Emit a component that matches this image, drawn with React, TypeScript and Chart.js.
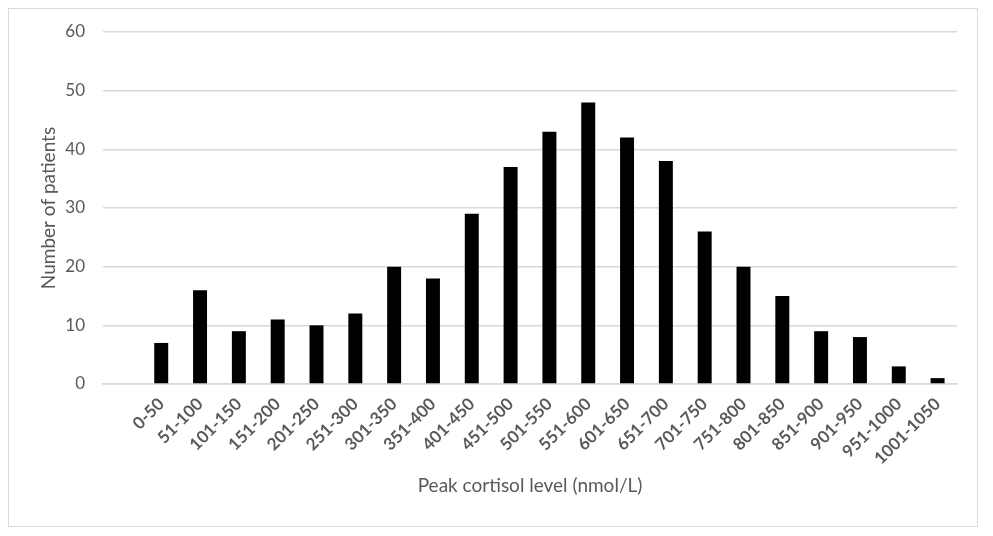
import React, { useEffect, useRef } from "react";
import { Chart, registerables } from "chart.js";

Chart.register(...registerables);

// first category is blank in the original (empty slot before 0-50)
const categories = [
  "", "0-50", "51-100", "101-150", "151-200", "201-250", "251-300", "301-350",
  "351-400", "401-450", "451-500", "501-550", "551-600", "601-650", "651-700",
  "701-750", "751-800", "801-850", "851-900", "901-950", "951-1000", "1001-1050",
];
const patients = [null, 7, 16, 9, 11, 10, 12, 20, 18, 29, 37, 43, 48, 42, 38, 26, 20, 15, 9, 8, 3, 1];
const yTicksMax = 60;
const yStep = 10;
const xTitle = "Peak cortisol level (nmol/L)";
const yTitle = "Number of patients";

const FONT = "Lato, 'Open Sans', sans-serif";
const TEXT = "#595959";
const GRID = "#d9d9d9";

export default function App() {
  const ref = useRef<HTMLCanvasElement | null>(null);
  useEffect(() => {
    if (!ref.current) return;
    const chart = new Chart(ref.current, {
      type: "bar",
      data: {
        labels: categories,
        datasets: [
          {
            data: patients,
            backgroundColor: "#000000",
            borderWidth: 0,
            barPercentage: 0.36,
            categoryPercentage: 1,
          },
        ],
      },
      options: {
        animation: false,
        responsive: true,
        maintainAspectRatio: false,
        layout: { padding: { left: 0, right: 20, top: 23, bottom: 0 } },
        plugins: { legend: { display: false }, tooltip: { enabled: false } },
        scales: {
          x: {
            grid: { display: false, drawTicks: false },
            border: { display: true, color: GRID, width: 1.5 },
            ticks: {
              color: TEXT,
              font: { family: FONT, size: 17, weight: "bold" },
              maxRotation: 45,
              minRotation: 45,
              autoSkip: false,
              padding: 10,
            },
            title: {
              display: true,
              text: xTitle,
              color: TEXT,
              font: { family: FONT, size: 19 },
              padding: { top: 0, bottom: 29 },
            },
            afterFit: (s: any) => {
              s.height = 142;
            },
          },
          y: {
            min: 0,
            max: yTicksMax,
            grid: {
              color: GRID,
              lineWidth: 1.5,
              drawTicks: true,
              tickLength: 18,
              tickColor: "rgba(0,0,0,0)",
            },
            border: { display: false },
            ticks: {
              stepSize: yStep,
              color: TEXT,
              font: { family: FONT, size: 17 },
              padding: 0,
            },
            title: {
              display: true,
              text: yTitle,
              color: TEXT,
              font: { family: FONT, size: 19 },
              padding: { top: 28, bottom: 0 },
            },
            afterFit: (s: any) => {
              s.width = 94;
            },
          },
        },
      },
    });
    return () => chart.destroy();
  }, []);
  return (
    <div
      style={{
        width: 968,
        height: 517,
        border: "1px solid #d9d9d9",
        background: "#fff",
        position: "relative",
      }}
    >
      <canvas ref={ref} />
    </div>
  );
}
